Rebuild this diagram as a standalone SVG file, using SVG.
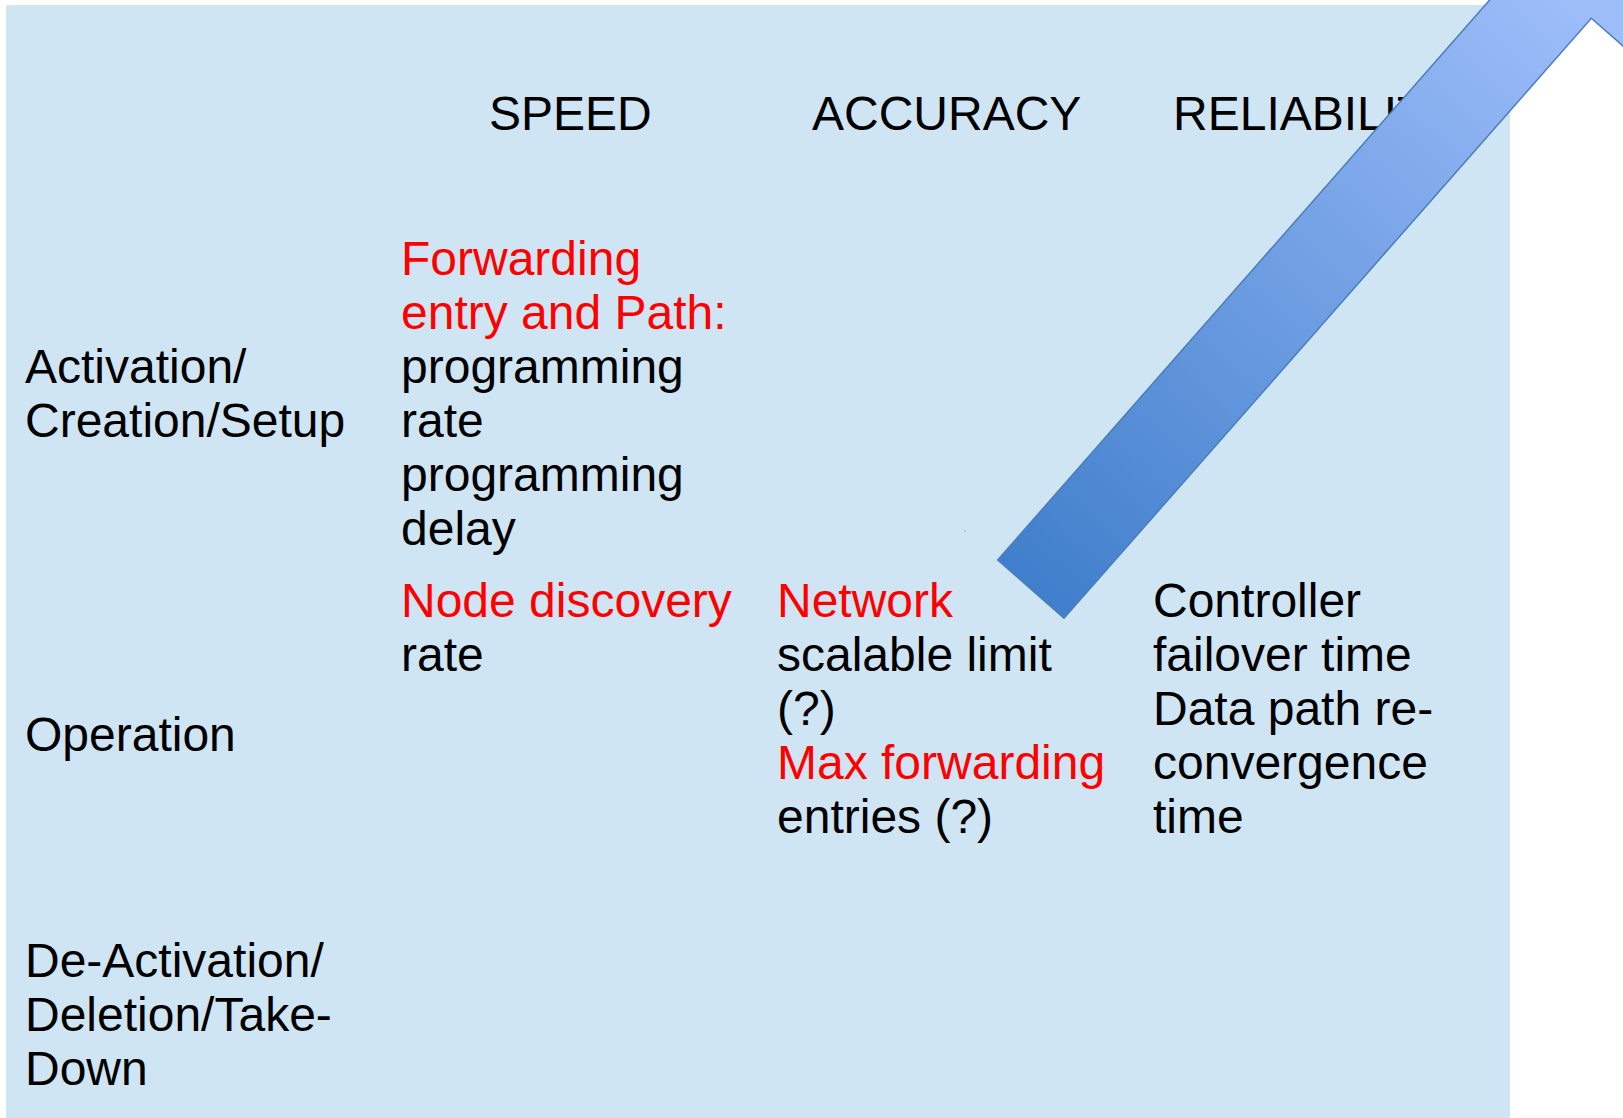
<svg xmlns="http://www.w3.org/2000/svg" width="1623" height="1118" viewBox="0 0 1623 1118">
<style>
  text { font-family: "Liberation Sans", Arial, sans-serif; font-size: 48px; fill: #000; }
  .red { fill: #ff0000; }
</style>
<defs>
  <linearGradient id="arrowGrad" gradientUnits="userSpaceOnUse" x1="1031" y1="600" x2="1570" y2="0">
    <stop offset="0" stop-color="#3f7ecb"/>
    <stop offset="1" stop-color="#9dbdf9"/>
  </linearGradient>
</defs>
<rect width="1623" height="1118" fill="#ffffff"/>
<g id="background">
  <rect x="6" y="5" width="1504" height="1113" fill="#cfe5f3"/>
</g>
<g id="headers">
  <text x="489" y="130">SPEED</text>
  <text x="812" y="130">ACCURACY</text>
  <text x="1173" y="130">RELIABILITY</text>
</g>
<g id="row-labels">
  <text x="25" y="383">Activation/</text>
  <text x="25" y="437">Creation/Setup</text>
  <text x="25" y="751">Operation</text>
  <text x="25" y="977">De-Activation/</text>
  <text x="25" y="1031">Deletion/Take-</text>
  <text x="25" y="1085">Down</text>
</g>
<g id="speed-activation">
  <text x="401" y="275" class="red">Forwarding</text>
  <text x="401" y="329" class="red">entry and Path:</text>
  <text x="401" y="383">programming</text>
  <text x="401" y="437">rate</text>
  <text x="401" y="491">programming</text>
  <text x="401" y="545">delay</text>
</g>
<g id="speed-operation">
  <text x="401" y="617" class="red">Node discovery</text>
  <text x="401" y="671">rate</text>
</g>
<g id="accuracy-operation">
  <text x="777" y="617" class="red">Network</text>
  <text x="777" y="671">scalable limit</text>
  <text x="777" y="725">(?)</text>
  <text x="777" y="779" class="red">Max forwarding</text>
  <text x="777" y="833">entries (?)</text>
</g>
<g id="reliability-operation">
  <text x="1153" y="617">Controller</text>
  <text x="1153" y="671">failover time</text>
  <text x="1153" y="725">Data path re-</text>
  <text x="1153" y="779">convergence</text>
  <text x="1153" y="833">time</text>
</g>
<g id="connectors">
  <polygon id="big-arrow" points="997.7,560 1064,618.3 1591.3,18.3 1628.9,51.3 1657,-123.4 1487,-72.8 1524.6,-39.8" fill="url(#arrowGrad)" stroke="#4a7ebb" stroke-width="1.5" stroke-linejoin="miter"/>
  <rect x="964.5" y="530.5" width="1" height="1" fill="#4a7ebb"/>
</g>
</svg>
